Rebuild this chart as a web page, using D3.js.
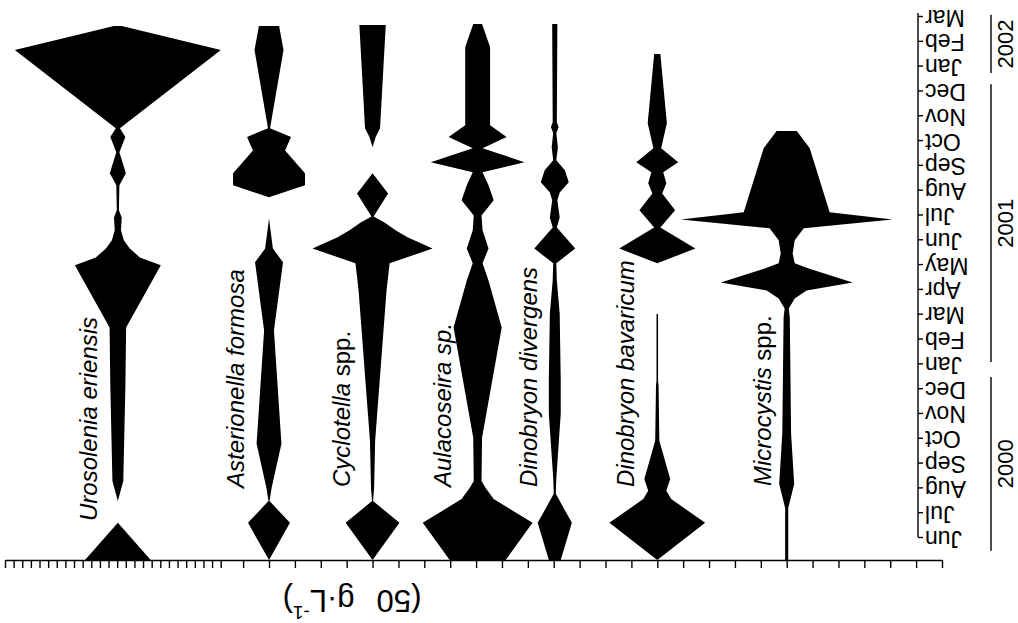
<!DOCTYPE html>
<html><head><meta charset="utf-8">
<script src="https://cdn.jsdelivr.net/npm/d3@7"></script>
<style>body{margin:0;background:#fff}svg{display:block}text{font-family:"Liberation Sans",Arial,Helvetica,sans-serif;fill:#000}</style>
</head><body><svg id="c" width="1018" height="623"></svg>
<script>
// time: months since June 2000 (0 = Jun 2000, 21 = Mar 2002)
const monthLabels = ["Jun","Jul","Aug","Sep","Oct","Nov","Dec","Jan","Feb","Mar","Apr","May","Jun","Jul","Aug","Sep","Oct","Nov","Dec","Jan","Feb","Mar"];
const yearLabels = ["2000","2001","2002"];
const yearFrom = [-0.55, 7.05, 18.7];
const yearTo = [6.45, 18.25, 21.05];
// biomass scale ticks (one major tick = 50 units)
const majorTicks = d3.range(0, 1351, 50);
const minorTicks = d3.range(-460, -30, 50 / 3);
const unitLabel = ["(50", "g·L", "-1", ")"];
// species, centre positions on the biomass axis
const speciesNames = ["Urosolenia eriensis","Asterionella formosa","Cyclotella spp.","Aulacoseira sp.","Dinobryon divergens","Dinobryon bavaricum","Microcystis spp."];
const speciesCentres = [-242, 50, 250, 453, 602, 800, 1050];
// [month, kite width]
const urosolenia = [[-0.93,127],[0.57,0],[1.45,0],[2.26,21],[6.02,29],[8.44,32],[10.95,166],[11.27,85],[11.63,46],[11.96,23],[12.36,12],[12.88,15],[13.17,4],[14.18,6],[14.66,31],[15.51,6],[16.12,29],[16.48,8],[19.63,398],[20.60,15]];
const asterionella = [[-0.93,0],[0.57,81],[1.45,2],[1.98,10],[3.76,48],[8.32,19],[11.07,54],[11.63,15],[12.84,0],[13.69,0],[14.18,139],[14.66,139],[15.58,62],[16.12,85],[16.48,4],[19.63,56],[20.60,39]];
const cyclotella = [[-0.93,0],[0.57,104],[1.45,2],[1.98,6],[3.88,10],[9.94,54],[11.03,66],[11.63,232],[12.08,135],[12.36,89],[12.68,46],[12.92,4],[13.85,60],[14.66,0],[15.71,0],[16.12,12],[16.48,29],[20.64,51]];
const aulacoseira = [[-0.93,108],[0.57,212],[1.53,62],[1.98,31],[2.26,15],[4.00,17],[8.44,93],[10.34,42],[11.03,19],[11.63,42],[12.36,19],[12.96,15],[13.57,62],[14.18,42],[14.70,19],[15.11,181],[15.67,19],[16.12,112],[16.60,48],[19.75,48],[20.68,17]];
const dinoDivergens = [[-0.93,23],[0.57,66],[1.74,4],[2.38,6],[4.97,23],[6.30,23],[9.01,19],[10.34,8],[11.03,6],[11.63,79],[12.48,8],[12.88,19],[13.57,10],[13.89,19],[14.30,54],[14.78,39],[15.19,6],[15.71,12],[16.28,6],[16.52,15],[16.72,8],[20.68,10]];
const dinoBavaricum = [[-0.93,0],[0.57,185],[1.53,54],[1.86,35],[2.34,50],[3.88,8],[6.10,5],[6.30,3],[8.97,3],[9.01,0],[11.03,0],[11.63,147],[12.48,12],[13.17,69],[13.85,19],[14.26,35],[14.70,23],[15.11,81],[15.67,15],[16.68,37],[19.47,12]];
const microcystis = [[-0.93,6],[0.12,6],[1.17,6],[2.14,29],[4.16,17],[8.85,12],[9.21,8],[9.61,31],[9.94,77],[10.26,255],[10.82,85],[11.03,31],[11.43,23],[11.96,31],[12.44,66],[12.80,409],[13.09,166],[15.67,89],[16.36,39]];
const speciesData = [urosolenia, asterionella, cyclotella, aulacoseira, dinoDivergens, dinoBavaricum, microcystis];

const svg = d3.select("#c");
const x = d3.scaleLinear().domain([-460, 1350]).range([5, 942]);
const y = d3.scaleLinear().domain([0, 21]).range([537, 16]);

// kites
const area = c => d3.area()
  .y(d => y(d[0]))
  .x0(d => x(c - d[1] / 2))
  .x1(d => x(c + d[1] / 2))
  .curve(d3.curveLinear);
speciesData.forEach((data, i) => {
  svg.append("path").datum(data).attr("d", area(speciesCentres[i])).attr("fill", "#000");
});

// bottom axis
const xAxis = d3.axisBottom(x).tickValues(minorTicks.concat(majorTicks)).tickSize(8).tickSizeOuter(0).tickFormat("");
const gx = svg.append("g").attr("transform", "translate(0,560)").call(xAxis);
gx.selectAll("line,path").attr("stroke", "#000").attr("stroke-width", 1.4);

// unit label (rotated 180)
const ul = svg.append("text").attr("transform", "translate(352,601) rotate(180)")
  .attr("text-anchor", "middle").attr("dominant-baseline", "central").attr("font-size", 31);
ul.append("tspan").text(unitLabel[0]);
ul.append("tspan").attr("dx", 22).text(unitLabel[1]);
ul.append("tspan").attr("font-size", 19).attr("dy", -12).text(unitLabel[2]);
ul.append("tspan").attr("dy", 12).text(unitLabel[3]);

// right time axis
const yAxis = d3.axisRight(y).tickValues(d3.range(monthLabels.length)).tickSize(5).tickSizeOuter(0)
  .tickFormat(i => monthLabels[i]);
const gy = svg.append("g").attr("transform", "translate(918,0)").call(yAxis);
gy.select(".domain").remove();
gy.append("line").attr("x1", 0).attr("x2", 0).attr("y1", y(21) - 3).attr("y2", y(0)).attr("stroke", "#000").attr("stroke-width", 1.4);
gy.selectAll(".tick line").attr("stroke", "#000").attr("stroke-width", 1.4);
gy.selectAll(".tick text").attr("x", 0).attr("dy", null)
  .attr("transform", "translate(7,1) rotate(180)")
  .attr("text-anchor", "end").attr("dominant-baseline", "central")
  .attr("font-size", 23).attr("font-family", "'Liberation Sans',Arial,sans-serif").attr("fill", "#000");

// year bars + labels
yearLabels.forEach((lab, i) => {
  svg.append("line").attr("x1", 991).attr("x2", 991).attr("y1", y(yearTo[i])).attr("y2", y(yearFrom[i]))
    .attr("stroke", "#000").attr("stroke-width", 1.4);
  const cy = (y(yearTo[i]) + y(yearFrom[i])) / 2;
  svg.append("text").attr("transform", `translate(1013,${cy}) rotate(-90)`)
    .attr("text-anchor", "middle").attr("font-size", 22).text(lab);
});

// species labels
const labelBase = [97, 244, 350, 451, 537, 634, 771];
const labelStart = [521, 488, 487, 487, 487, 487, 486];
speciesNames.forEach((n, i) => {
  const t = svg.append("text").attr("transform", `translate(${labelBase[i]},${labelStart[i]}) rotate(-90)`)
    .attr("font-size", 24);
  const parts = n.split(" ");
  const upright = parts[1] === "spp.";
  t.append("tspan").attr("font-style", "italic").text(parts[0] + " ");
  t.append("tspan").attr("font-style", upright ? "normal" : "italic").text(parts[1]);
});
</script></body></html>
